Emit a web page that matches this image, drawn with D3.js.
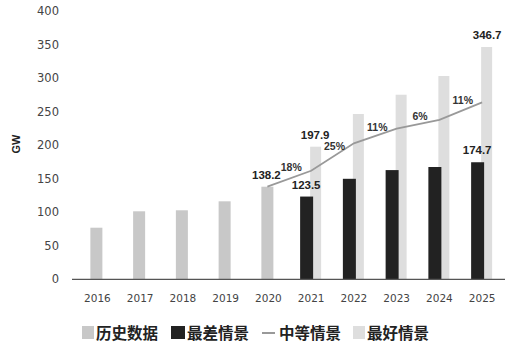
<!DOCTYPE html>
<html>
<head>
<meta charset="utf-8">
<script src="https://cdn.jsdelivr.net/npm/d3@7"></script>
<style>
  html, body { margin: 0; padding: 0; background: #fff; }
  svg { display: block; }
</style>
</head>
<body>
<svg id="chart" width="514" height="350"></svg>
<script>
// Installed solar capacity (GW): history and three outlook scenarios
const years = ["2016", "2017", "2018", "2019", "2020", "2021", "2022", "2023", "2024", "2025"];
const historyYears = ["2016", "2017", "2018", "2019", "2020"];
const historyValues = [77, 101.5, 103, 116.4, 138.2];
const forecastYears = ["2021", "2022", "2023", "2024", "2025"];
const worstValues = [123.5, 150, 163, 167.6, 174.7];
const bestValues = [197.9, 246.7, 275.5, 303.4, 346.7];
const mediumYears = ["2020", "2021", "2022", "2023", "2024", "2025"];
const mediumValues = [138.2, 162, 203, 225, 238, 264];
const growthLabels = ["18%", "25%", "11%", "6%", "11%"];
const yTicks = [0, 50, 100, 150, 200, 250, 300, 350, 400];
const legendLabels = ["历史数据", "最差情景", "中等情景", "最好情景"];

const svg = d3.select("#chart");
const tickFont = "'DejaVu Sans', sans-serif";
const numFont = "'Liberation Sans', Arial, sans-serif";
const cjkFont = "'Noto Sans CJK SC', sans-serif";

const x = d3.scaleBand().domain(years).range([76, 503.5]).paddingInner(0).paddingOuter(0);
const y = d3.scaleLinear().domain([0, 400]).range([279.3, 11.3]);
const cx = d => x(d) + x.bandwidth() / 2;
const barW = 12;

// y axis tick labels (no axis line)
const yAxis = d3.axisLeft(y).tickValues(yTicks).tickSize(0).tickPadding(0);
const gy = svg.append("g").attr("transform", "translate(59,0)").call(yAxis);
gy.select(".domain").remove();
gy.selectAll("text")
  .attr("font-family", tickFont).attr("font-size", 11.5).attr("fill", "#444");

// x axis
const xAxis = d3.axisBottom(x).tickSize(0).tickPadding(15);
const gx = svg.append("g").attr("transform", `translate(0,${y(0)})`).call(xAxis);
gx.select(".domain").remove();
gx.selectAll("text")
  .attr("font-family", tickFont).attr("font-size", 10.5).attr("fill", "#444");

// unit label
svg.append("text")
  .attr("transform", "translate(20,144) rotate(-90)")
  .attr("text-anchor", "middle")
  .attr("font-family", numFont).attr("font-size", 11).attr("font-weight", 700)
  .attr("fill", "#222").text("GW");

// history bars
svg.append("g").selectAll("rect").data(historyYears).join("rect")
  .attr("x", d => cx(d) - barW / 2 - 1)
  .attr("width", barW)
  .attr("y", (d, i) => y(historyValues[i]))
  .attr("height", (d, i) => y(0) - y(historyValues[i]))
  .attr("fill", "#c8c8c8");

// best-case bars (behind, offset right)
svg.append("g").selectAll("rect").data(forecastYears).join("rect")
  .attr("x", d => cx(d) - 1)
  .attr("width", barW - 1)
  .attr("y", (d, i) => y(bestValues[i]))
  .attr("height", (d, i) => y(0) - y(bestValues[i]))
  .attr("fill", "#dedede");

// worst-case bars (front, offset left)
svg.append("g").selectAll("rect").data(forecastYears).join("rect")
  .attr("x", d => cx(d) - 11)
  .attr("width", barW + 1)
  .attr("y", (d, i) => y(worstValues[i]))
  .attr("height", (d, i) => y(0) - y(worstValues[i]))
  .attr("fill", "#222");

// baseline
svg.append("line")
  .attr("x1", 72).attr("x2", 505)
  .attr("y1", y(0)).attr("y2", y(0))
  .attr("stroke", "#555").attr("stroke-width", 1.2);

// medium scenario line
const line = d3.line().x(d => d[0]).y(d => d[1]);
const medPts = mediumYears.map((d, i) => [cx(d) - (i === 0 ? 1 : 0), y(mediumValues[i])]);
svg.append("path")
  .attr("d", line(medPts))
  .attr("fill", "none").attr("stroke", "#999").attr("stroke-width", 1.8);

// growth rate labels between points
const growthOffsets = [-12, -11, -9, -8, -11];
svg.append("g").selectAll("text").data(growthLabels).join("text")
  .attr("x", (d, i) => (medPts[i][0] + medPts[i + 1][0]) / 2 + 2)
  .attr("y", (d, i) => (medPts[i][1] + medPts[i + 1][1]) / 2 + growthOffsets[i] + 4)
  .attr("text-anchor", "middle")
  .attr("font-family", numFont).attr("font-size", 10.5).attr("font-weight", 700)
  .attr("fill", "#333").text(d => d);

// value labels
const valLabels = [
  { x: cx("2020") - 2, v: historyValues[4] },
  { x: cx("2021") - 5, v: worstValues[0] },
  { x: cx("2021") + 4, v: bestValues[0] },
  { x: cx("2025") - 5, v: worstValues[4] },
  { x: cx("2025") + 5, v: bestValues[4] }
];
svg.append("g").selectAll("text").data(valLabels).join("text")
  .attr("x", d => d.x)
  .attr("y", d => y(d.v) - 8)
  .attr("text-anchor", "middle")
  .attr("font-family", numFont).attr("font-size", 11.5).attr("font-weight", 700)
  .attr("fill", "#222").text(d => d.v.toFixed(1));

// legend
const lg = svg.append("g");
const legendItems = [
  { type: "rect", color: "#c8c8c8", sx: 82, tx: 96 },
  { type: "rect", color: "#222", sx: 171, tx: 187 },
  { type: "line", color: "#999", sx: 262, tx: 279 },
  { type: "rect", color: "#dedede", sx: 353, tx: 367 }
];
legendItems.forEach((it, i) => {
  if (it.type === "rect") {
    lg.append("rect").attr("x", it.sx).attr("y", 326)
      .attr("width", i === 1 ? 14 : 12).attr("height", 13).attr("fill", it.color);
  } else {
    lg.append("line").attr("x1", it.sx).attr("x2", it.sx + 13)
      .attr("y1", 333).attr("y2", 333)
      .attr("stroke", it.color).attr("stroke-width", 2);
  }
  lg.append("text").attr("x", it.tx).attr("y", 339)
    .attr("font-family", cjkFont).attr("font-size", 15.5).attr("font-weight", 700)
    .attr("fill", "#222").text(legendLabels[i]);
});
</script>
</body>
</html>
